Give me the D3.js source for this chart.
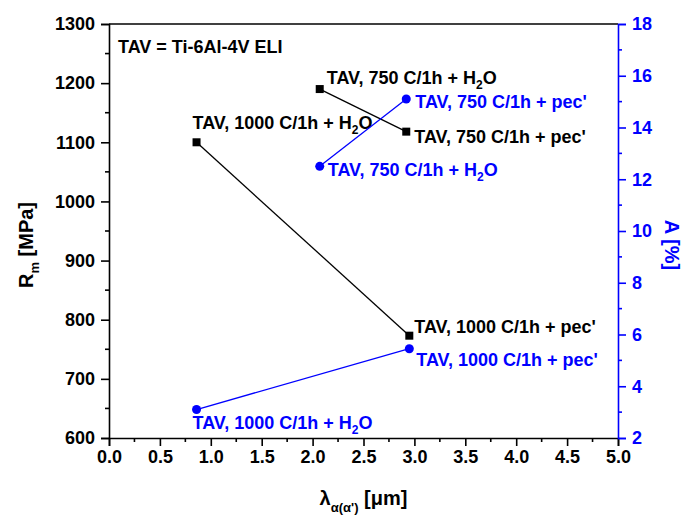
<!DOCTYPE html>
<html>
<head>
<meta charset="utf-8">
<script src="https://cdn.jsdelivr.net/npm/d3@7"></script>
<style>
  html, body { margin: 0; padding: 0; background: #fff; }
  svg { display: block; font-family: "Liberation Sans", Arial, sans-serif; font-weight: bold; }
</style>
</head>
<body>
<svg id="chart" width="686" height="515"></svg>
<script>
// Lamella thickness λ [µm] for each heat treatment
const lambda1000 = [0.86, 2.95];
const lambda750 = [2.07, 2.92];
// Tensile strength Rm [MPa]
const rm1000 = [1100, 773];
const rm750 = [1190, 1118];
// Elongation A [%]
const a1000 = [3.1, 5.45];
const a750 = [12.5, 15.1];
// Point labels (main text, subscript, trailing text)
const rmLabels1000 = [["TAV, 1000 C/1h + H", "2", "O"], ["TAV, 1000 C/1h + pec'", "", ""]];
const rmLabels750 = [["TAV, 750 C/1h + H", "2", "O"], ["TAV, 750 C/1h + pec'", "", ""]];
const aLabels1000 = [["TAV, 1000 C/1h + H", "2", "O"], ["TAV, 1000 C/1h + pec'", "", ""]];
const aLabels750 = [["TAV, 750 C/1h + H", "2", "O"], ["TAV, 750 C/1h + pec'", "", ""]];
// Axis ticks
const xTicks = [0.0, 0.5, 1.0, 1.5, 2.0, 2.5, 3.0, 3.5, 4.0, 4.5, 5.0];
const rmTicks = [600, 700, 800, 900, 1000, 1100, 1200, 1300];
const aTicks = [2, 4, 6, 8, 10, 12, 14, 16, 18];

// Label offsets from their points, in pixels
const offRm1000 = [[-4, -13], [5, -3]];
const offRm750 = [[7, -5], [8, 11]];
const offA1000 = [[-4, 19], [7, 17]];
const offA750 = [[8, 10], [9, 9]];

const BLUE = "#0000ff";
const svg = d3.select("#chart");
const m = { left: 109, right: 618, top: 24, bottom: 438 };

const x = d3.scaleLinear().domain([0, 5]).range([m.left, m.right]);
const yL = d3.scaleLinear().domain([600, 1300]).range([m.bottom, m.top]);
const yR = d3.scaleLinear().domain([2, 18]).range([m.bottom, m.top]);

const tickFont = 18;

// Minor ticks
const xMinor = d3.range(0, 5.001, 0.25).filter(v => Math.abs(v * 2 - Math.round(v * 2)) > 1e-6);
const rmMinor = d3.range(650, 1300, 100);
const aMinor = d3.range(3, 18, 2);

// Bottom axis
const gx = svg.append("g").attr("transform", `translate(0,${m.bottom})`)
  .call(d3.axisBottom(x).tickValues(xTicks).tickFormat(d3.format(".1f")).tickSizeOuter(0).tickSize(8).tickPadding(4));
gx.selectAll(".tick text").attr("font-size", tickFont).attr("font-family", "Liberation Sans, Arial").attr("font-weight", "bold").attr("fill", "#000");
gx.selectAll("line, path").attr("stroke", "#000").attr("stroke-width", 1.6);
gx.selectAll(".minor").data(xMinor).enter().append("line")
  .attr("x1", d => x(d)).attr("x2", d => x(d)).attr("y1", 0).attr("y2", 4)
  .attr("stroke", "#000").attr("stroke-width", 1.6);

// Left axis
const gl = svg.append("g").attr("transform", `translate(${m.left},0)`)
  .call(d3.axisLeft(yL).tickValues(rmTicks).tickFormat(d3.format("d")).tickSizeOuter(0).tickSize(8).tickPadding(6));
gl.selectAll(".tick text").attr("font-size", tickFont).attr("font-family", "Liberation Sans, Arial").attr("font-weight", "bold").attr("fill", "#000");
gl.selectAll("line, path").attr("stroke", "#000").attr("stroke-width", 1.6);
gl.selectAll(".minor").data(rmMinor).enter().append("line")
  .attr("x1", 0).attr("x2", -4).attr("y1", d => yL(d)).attr("y2", d => yL(d))
  .attr("stroke", "#000").attr("stroke-width", 1.6);

// Top frame line
svg.append("line").attr("x1", m.left).attr("x2", m.right).attr("y1", m.top).attr("y2", m.top)
  .attr("stroke", "#000").attr("stroke-width", 1.6);

// Right axis (blue)
const gr = svg.append("g").attr("transform", `translate(${m.right},0)`)
  .call(d3.axisRight(yR).tickValues(aTicks).tickSizeOuter(0).tickSize(8).tickPadding(6));
gr.selectAll(".tick text").attr("font-size", tickFont).attr("font-family", "Liberation Sans, Arial").attr("font-weight", "bold").attr("fill", BLUE);
gr.selectAll("line, path").attr("stroke", BLUE).attr("stroke-width", 1.6);
gr.selectAll(".minor").data(aMinor).enter().append("line")
  .attr("x1", 0).attr("x2", 4).attr("y1", d => yR(d)).attr("y2", d => yR(d))
  .attr("stroke", BLUE).attr("stroke-width", 1.6);

// Axis titles
const rmTitle = svg.append("text")
  .attr("transform", "translate(33,245) rotate(-90)")
  .attr("text-anchor", "middle").attr("font-size", 20).attr("fill", "#000");
rmTitle.append("tspan").text("R");
rmTitle.append("tspan").attr("font-size", 13).attr("dy", 6).text("m");
rmTitle.append("tspan").attr("dy", -6).text(" [MPa]");

svg.append("text")
  .attr("transform", "translate(665,245) rotate(90)")
  .attr("text-anchor", "middle").attr("font-size", 20).attr("fill", BLUE)
  .text("A [%]");

const xTitle = svg.append("text")
  .attr("x", (m.left + m.right) / 2).attr("y", 505)
  .attr("text-anchor", "middle").attr("font-size", 20).attr("fill", "#000");
xTitle.append("tspan").text("λ");
xTitle.append("tspan").attr("font-size", 13).attr("dy", 7).text("α(α')");
xTitle.append("tspan").attr("dy", -7).text(" [μm]");

// Note
svg.append("text").attr("x", 118).attr("y", 53).attr("font-size", 18).attr("fill", "#000")
  .text("TAV = Ti-6Al-4V ELI");

const line = (xs, ys, yScale) => d3.line()(xs.map((v, i) => [x(v), yScale(ys[i])]));

function drawSeries(xs, ys, yScale, color, shape, labels, offs) {
  svg.append("path").attr("d", line(xs, ys, yScale))
    .attr("fill", "none").attr("stroke", color).attr("stroke-width", 1.3);
  xs.forEach((v, i) => {
    const px = x(v), py = yScale(ys[i]);
    if (shape === "square") {
      svg.append("rect").attr("x", px - 4).attr("y", py - 4).attr("width", 8).attr("height", 8).attr("fill", color);
    } else {
      svg.append("circle").attr("cx", px).attr("cy", py).attr("r", 4.5).attr("fill", color);
    }
    const [main, sub, tail] = labels[i];
    const t = svg.append("text").attr("x", px + offs[i][0]).attr("y", py + offs[i][1])
      .attr("font-size", 18).attr("fill", color);
    t.append("tspan").text(main);
    if (sub) {
      t.append("tspan").attr("font-size", 12).attr("dy", 5).text(sub);
      t.append("tspan").attr("dy", -5).text(tail);
    }
  });
}

drawSeries(lambda1000, rm1000, yL, "#000", "square", rmLabels1000, offRm1000);
drawSeries(lambda750, rm750, yL, "#000", "square", rmLabels750, offRm750);
drawSeries(lambda1000, a1000, yR, BLUE, "circle", aLabels1000, offA1000);
drawSeries(lambda750, a750, yR, BLUE, "circle", aLabels750, offA750);
</script>
</body>
</html>
